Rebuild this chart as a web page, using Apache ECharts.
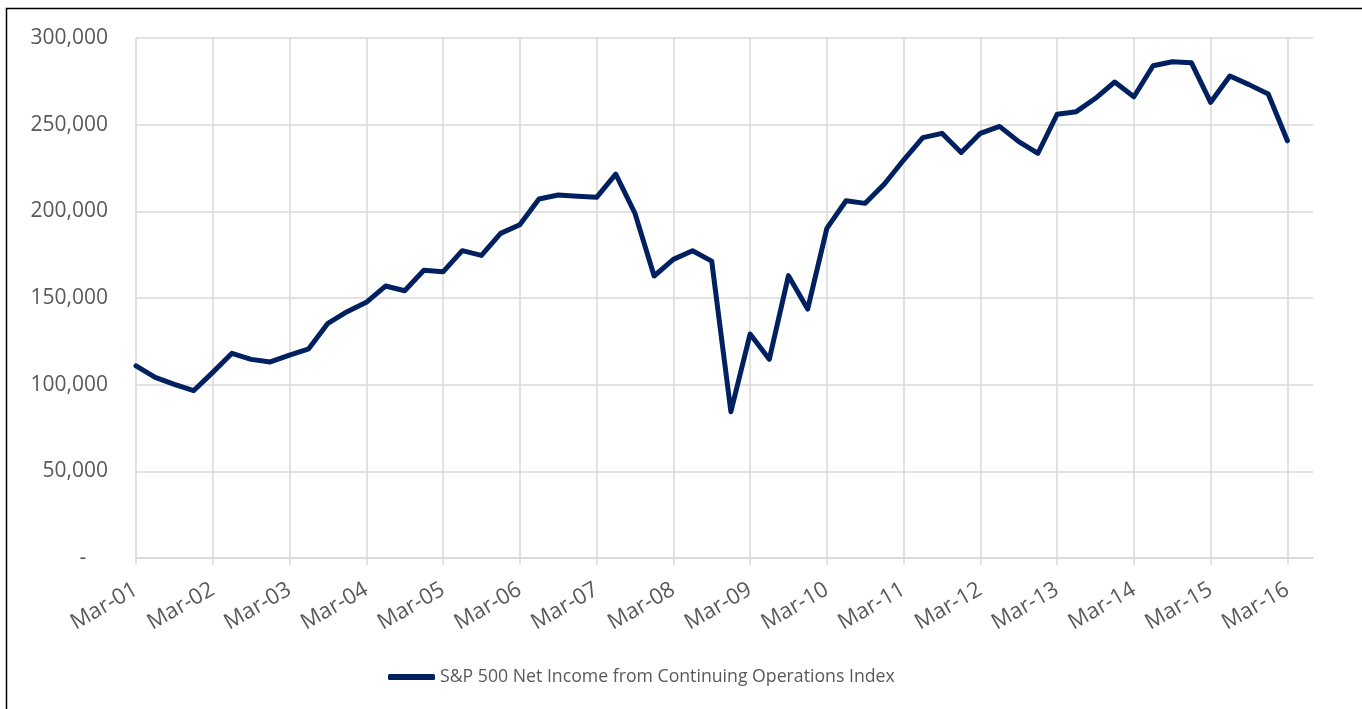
<!DOCTYPE html>
<html>
<head>
<meta charset="utf-8">
<script src="https://cdn.jsdelivr.net/npm/echarts@6/dist/echarts.min.js"></script>
<style>
html,body{margin:0;padding:0;background:#fff;}
#chart{width:1362px;height:709px;}
</style>
</head>
<body>
<div id="chart"></div>
<script>
// Year tick labels (one per March)
const yearLabels = ["Mar-01","Mar-02","Mar-03","Mar-04","Mar-05","Mar-06","Mar-07","Mar-08",
  "Mar-09","Mar-10","Mar-11","Mar-12","Mar-13","Mar-14","Mar-15","Mar-16"];
// Quarterly values from Mar-01 to Mar-16 (61 quarters)
const netIncome = [110800,104200,100200,96500,107100,118100,114600,113100,117100,120700,
  135400,142100,147500,156900,154200,166000,165100,177300,174600,187300,
  192300,207100,209400,208700,208100,221500,198900,162700,172300,177300,
  171300,84400,129200,114600,162900,143600,190200,206100,204600,215800,
  229600,242500,245000,234000,245000,249000,240200,233500,256000,257500,
  265200,274600,266100,284000,286300,285700,262900,278100,273100,267700,240700];
const seriesName = "S&P 500 Net Income from Continuing Operations Index";

// x positions in months since Mar-01 (quarterly points => 3 months apart)
const data = netIncome.map((v, i) => [i * 3, v]);
const yearMonths = yearLabels.map((_, i) => i * 12);

const chart = echarts.init(document.getElementById('chart'));
const font = '"Open Sans", sans-serif';
chart.setOption({
  animation: false,
  backgroundColor: '#fff',
  graphic: [{
    type: 'rect', silent: true,
    shape: {x: 6.5, y: 8.5, width: 1400, height: 720},
    style: {fill: 'none', stroke: '#000', lineWidth: 1.5}
  }],
  grid: {left: 136, right: 49, top: 38, bottom: 151, containLabel: false},
  legend: {
    left: 383, top: 663,
    icon: 'roundRect',
    itemWidth: 47, itemHeight: 6, itemGap: 10,
    textStyle: {fontFamily: font, fontSize: 17.7, color: '#595959'},
    data: [seriesName]
  },
  xAxis: {
    type: 'value', min: 0, max: 184, interval: 12,
    axisLine: {show: true, lineStyle: {color: '#d9d9d9', width: 1.5}},
    axisTick: {show: true, length: 7, customValues: yearMonths, lineStyle: {color: '#d9d9d9', width: 1.5}},
    axisLabel: {
      customValues: yearMonths,
      rotate: 30, margin: 30,
      fontFamily: font, fontSize: 22, color: '#595959',
      formatter: v => yearLabels[Math.round(v / 12)] || ''
    },
    splitLine: {show: true, lineStyle: {color: '#d9d9d9', width: 1.5}}
  },
  yAxis: {
    type: 'value', min: 0, max: 300000, interval: 50000,
    axisLine: {show: false}, axisTick: {show: false},
    axisLabel: {
      margin: 28, fontFamily: font, fontSize: 21, color: '#595959',
      formatter: v => v === 0 ? '-    ' : v.toLocaleString('en-US')
    },
    splitLine: {show: true, lineStyle: {color: '#d9d9d9', width: 1.5}}
  },
  series: [{
    name: seriesName, type: 'line', data: data,
    symbol: 'none', smooth: false,
    lineStyle: {color: '#002060', width: 5, cap: 'round', join: 'round'},
    itemStyle: {color: '#002060'}
  }]
});
</script>
</body>
</html>
